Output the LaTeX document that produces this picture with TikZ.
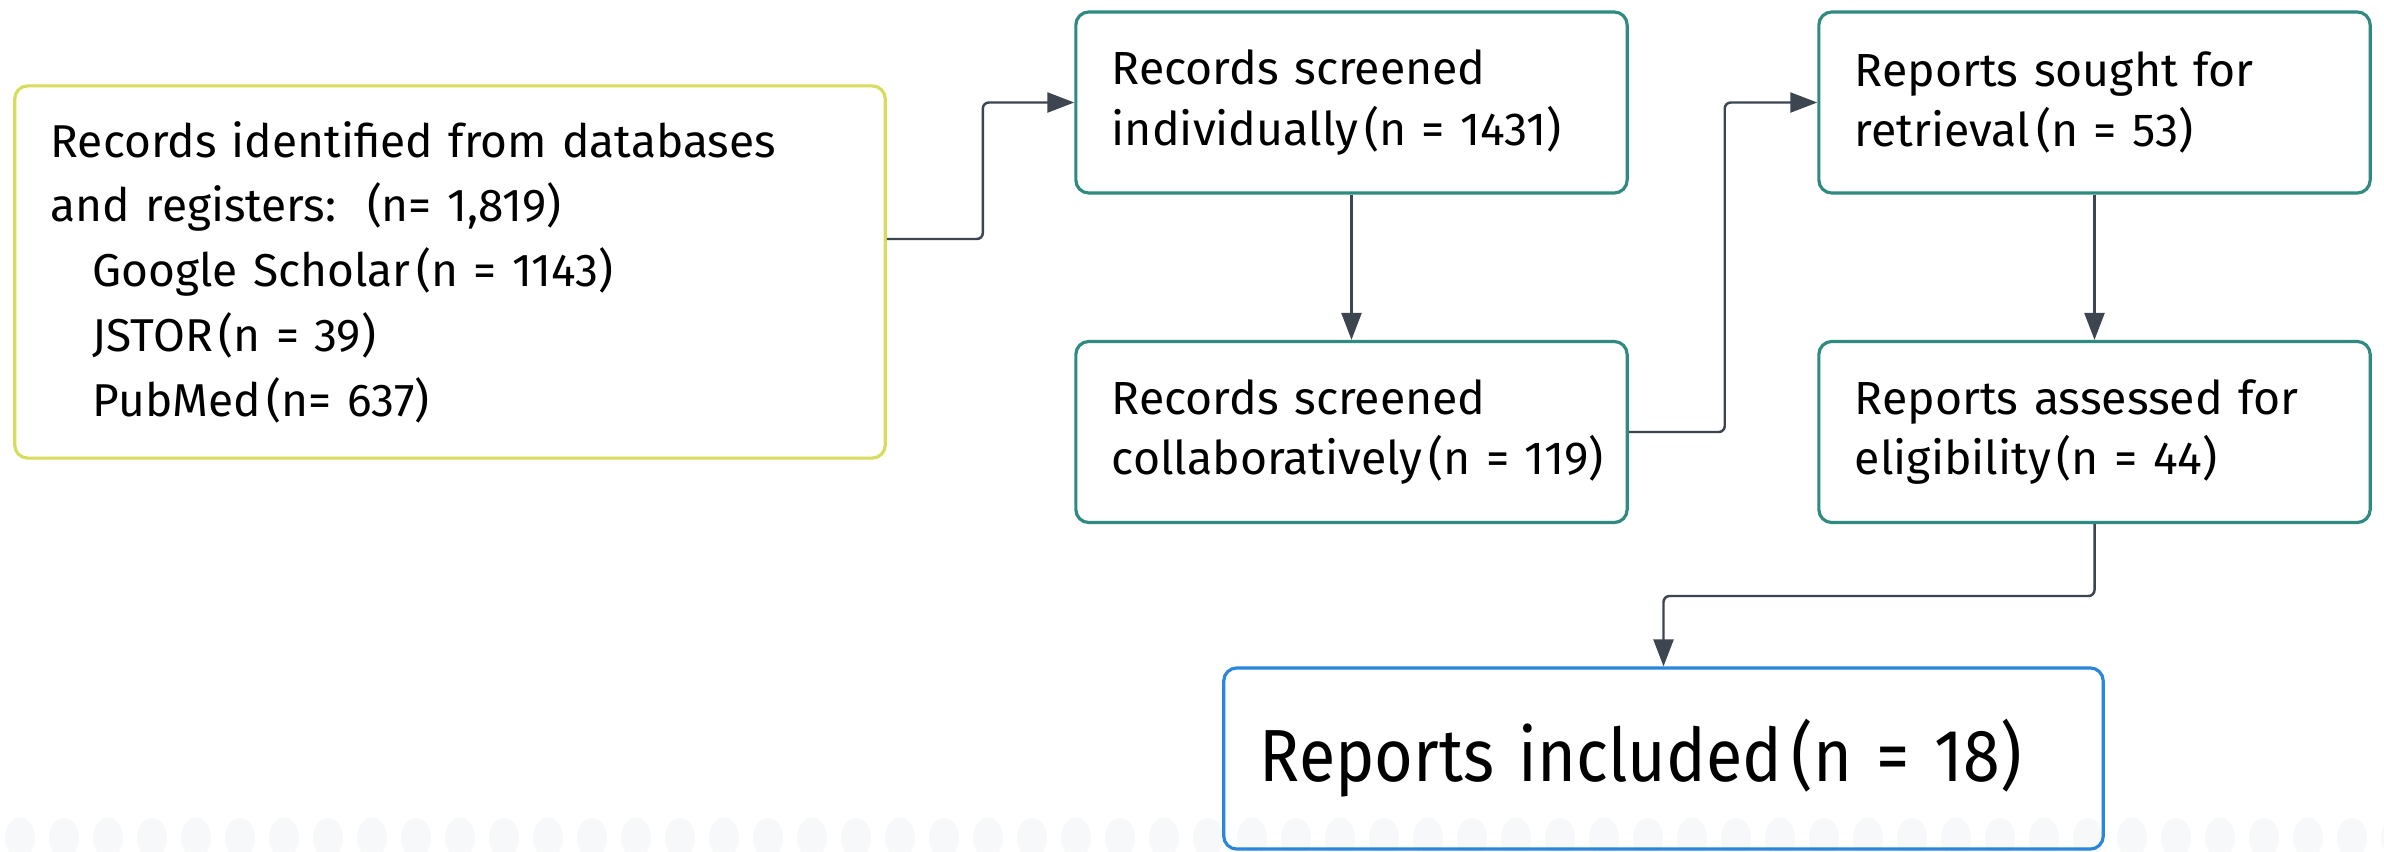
\documentclass[tikz,border=0pt]{standalone}
\usepackage{fontspec}
\setmainfont{Fira Sans}
\newfontfamily\condfont[FakeStretch=0.9]{Fira Sans}
\usetikzlibrary{arrows.meta}
\newcommand{\tgap}{\hspace{0.13em}}
\definecolor{tealb}{HTML}{2F8A80}
\definecolor{yellowb}{HTML}{D6DD5C}
\definecolor{blueb}{HTML}{2A86DA}
\definecolor{arrowc}{HTML}{3C4550}
\definecolor{dotc}{HTML}{F6F8FA}
\tikzset{
  boxbase/.style={draw, rounded corners=0.13cm, line width=0.9pt, align=left,
    inner xsep=0.36cm, inner ysep=0pt},
  tealbox/.style={boxbase, draw=tealb, minimum width=5.51cm, minimum height=1.81cm,
    text width=4.79cm, font=\fontsize{13.2}{17.2}\selectfont},
  yellowbox/.style={boxbase, draw=yellowb, minimum width=8.70cm, minimum height=3.72cm,
    text width=7.98cm, font=\fontsize{13.1}{18.4}\selectfont},
  bluebox/.style={boxbase, draw=blueb, minimum width=8.79cm, minimum height=1.81cm,
    text width=8.07cm, font=\condfont\fontsize{21}{25}\selectfont},
  conn/.style={draw=arrowc, line width=0.7pt, rounded corners=0.06cm,
    -{Triangle[length=0.27cm,width=0.2cm]}}
}
\begin{document}
\begin{tikzpicture}[x=0.01cm,y=-0.01cm]
\clip (0,0) rectangle (2384,851);
\fill[white] (0,0) rectangle (2384,851);
\foreach \i in {0,...,54} {
  \fill[dotc] (20+\i*44,838) ellipse (0.15cm and 0.2cm);
}
\node[yellowbox] (yellow) at (450,272) {Records identified from databases\\
and registers:\ \ (n= 1,819)\\
\hspace*{0.42cm}Google Scholar\tgap(n = 1143)\\
\hspace*{0.42cm}JSTOR\tgap(n = 39)\\
\hspace*{0.42cm}PubMed\tgap(n= 637)};
\node[tealbox] (b1) at (1351.5,102.5) {\mbox{Records screened}\\\mbox{individually\tgap(n = 1431)}};
\node[tealbox] (b2) at (1351.5,432) {\mbox{Records screened}\\\mbox{collaboratively\tgap(n = 119)}};
\node[tealbox] (b3) at (2094.5,102.5) {\mbox{Reports sought for}\\\mbox{retrieval\tgap(n = 53)}};
\node[tealbox] (b4) at (2094.5,432) {\mbox{Reports assessed for}\\\mbox{eligibility\tgap(n = 44)}};
\node[bluebox] (b5) at (1663.5,758.5) {\mbox{Reports included\tgap(n = 18)}};
\coordinate (mid) at (1663.5,596);
\draw[conn] ([yshift=0.33cm]yellow.east) -- ++(96,0) |- (b1.west);
\draw[conn] (b1.south) -- (b2.north);
\draw[conn] (b2.east) -- ++(96,0) |- (b3.west);
\draw[conn] (b3.south) -- (b4.north);
\draw[conn] (b4.south) |- (mid) -- (b5.north);
\end{tikzpicture}
\end{document}
